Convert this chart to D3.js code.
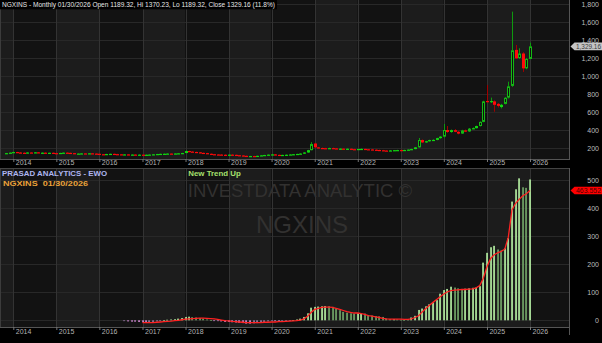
<!DOCTYPE html>
<html><head><meta charset="utf-8">
<script src="https://cdn.jsdelivr.net/npm/d3@7"></script>
<style>
body{margin:0;background:#000;}
svg{display:block;font-family:"Liberation Sans",Arial,sans-serif;}
</style>
</head><body>
<svg id="c" width="602" height="343"></svg>
<script>
// ---------- DATA ----------
const firstMonth = "2013-11-01";          // first monthly bar
const ewoFirstMonth = "2016-08-01";       // first EWO bar
const sigFirstMonth = "2017-01-01";       // first signal-line point
const years = [2014,2015,2016,2017,2018,2019,2020,2021,2022,2023,2024,2025,2026];
const priceTicks = [200,400,600,800,1000,1200,1400,1600,1800];
const ewoTicks = [0,100,200,300,400,500];

const opens = [140,143,
 148,155,150,147,146,150,148,152,147,148,145,147,
 143,141,145,148,146,143,136,138,140,139,141,138,
 136,131,130,133,135,132,130,128,129,126,127,125,
 126,124,125,127,130,133,135,136,138,137,139,141,
 144,166,160,156,152,146,143,136,131,128,127,125,
 123,126,124,120,117,113,107,111,110,113,118,122,
 126,129,124,118,123,125,128,131,134,138,150,176,
 250,207,200,198,195,199,196,190,193,189,192,187,
 185,189,190,186,184,181,178,175,172,170,173,176,
 177,175,178,182,188,207,289,262,275,288,290,310,
 326,400,378,398,380,360,395,384,415,420,444,490,
 722,712,718,690,655,690,760,890,1290,1200,1250,1085,
 1189.32];
const highs = [145,150,
 158,157,153,151,152,153,154,154,150,151,148,150,
 146,147,150,152,149,145,140,142,143,142,143,140,
 138,134,135,137,138,135,133,131,131,129,129,128,
 129,127,128,131,135,137,139,140,141,141,143,146,
 172,170,164,159,155,149,146,139,134,132,131,128,
 128,130,127,123,120,116,113,114,115,120,124,128,
 132,132,126,125,127,130,133,136,140,152,180,265,
 255,212,205,202,203,204,200,196,197,195,196,192,
 192,195,193,190,188,185,182,179,176,175,178,180,
 182,181,184,192,210,311,295,280,292,296,314,332,
 467,444,405,410,388,402,404,422,428,448,495,725,
 900,760,730,700,690,765,937,1715,1345,1308,1265,1200,
 1370.23];
const lows = [138,141,
 146,147,144,143,144,146,146,145,142,143,140,141,
 138,139,142,144,141,134,132,134,136,135,136,133,
 128,127,128,131,130,128,126,125,124,123,122,122,
 122,121,122,125,128,130,132,133,134,134,136,139,
 142,158,154,150,143,140,133,128,126,124,122,120,
 120,121,118,114,110,104,103,107,108,111,116,120,
 123,121,112,115,119,122,125,128,131,136,148,174,
 200,196,193,190,192,193,188,187,186,186,185,182,
 182,185,183,181,178,175,172,170,168,166,170,172,
 172,172,175,180,186,205,255,258,270,282,286,304,
 318,368,370,376,352,356,380,380,410,418,440,486,
 705,700,603,650,640,685,750,880,1190,1190,1045,1075,
 1189.32];
const closes = [143,148,
 155,150,147,146,150,148,152,147,148,145,147,143,
 141,145,148,146,143,136,138,140,139,141,138,136,
 131,130,133,135,132,130,128,129,126,127,125,126,
 124,125,127,130,133,135,136,138,137,139,141,144,
 166,160,156,152,146,143,136,131,128,127,125,123,
 126,124,120,117,113,107,111,110,113,118,122,126,
 129,124,118,123,125,128,131,134,138,150,176,244,
 207,200,198,195,199,196,190,193,189,192,187,185,
 189,190,186,184,181,178,175,172,170,173,176,177,
 175,178,182,188,207,289,262,275,288,290,310,326,
 400,378,398,380,360,395,384,415,420,444,490,718,
 714,722,680,668,680,758,885,1285,1196,1250,1085,1189,
 1329.16];

const ewo = [-3,-4,-5,-5,-6,
 -7,-8,-7,-6,-4,-2,0,2,3,4,6,8,
 12,13,11,10,8,6,3,1,-1,-3,-4,-6,
 -6,-7,-8,-9,-10,-12,-12,-11,-10,-8,-6,-4,
 -3,-3,-4,-3,-2,-1,1,3,6,12,25,45,
 48,49,50,51,50,48,42,36,30,27,25,24,
 25,26,24,19,17,15,14,12,6,4,4,3,
 2,1,3,10,16,37,42,50,57,64,72,95,
 108,112,120,117,114,112,113,114,116,117,122,206,
 241,261,266,253,249,257,293,424,468,507,475,473,
 503];
const signal = [-8,-8,-8,-8,-7,-6,-5,-4,-3,-1,0,2,
 4,5,6,7,8,8,7,6,5,3,1,-1,
 -2,-4,-5,-6,-7,-8,-8,-8,-8,-8,-7,-7,
 -6,-6,-5,-5,-4,-3,-2,-1,1,5,14,28,
 39,43,46,47,47,46,43,39,35,31,28,26,
 26,24,21,17,15,12,10,7,5,4,4,4,
 4,3,3,5,10,16,30,42,54,64,74,84,
 94,102,106,108,109,110,110,111,112,116,124,150,
 191,221,233,241,246,254,297,394,418,432,445,452,
 463.552];

const titleText = "NGXINS - Monthly 01/30/2026 Open 1189.32, Hi 1370.23, Lo 1189.32, Close 1329.16 (11.8%)";
const lastClose = 1329.16, lastSignal = 463.552;

// ---------- BUILD ----------
const months = (start, n) => { const s = new Date(start + "T00:00:00Z"); return d3.range(n).map(i => d3.utcMonth.offset(s, i)); };
const cDates = months(firstMonth, closes.length);
const candles = cDates.map((d,i) => ({date:d, o:opens[i], h:highs[i], l:lows[i], c:closes[i]}));
const eDates = months(ewoFirstMonth, ewo.length);
const ewoData = eDates.map((d,i) => ({date:d, v:ewo[i], prev: i? ewo[i-1] : ewo[i]-1}));
const sDates = months(sigFirstMonth, signal.length);
const sigData = sDates.map((d,i) => ({date:d, v:signal[i]}));

const PR = 569;
const TOP = {y0:0, y1:159}, BOT = {y0:168, y1:327};
const yr = y => new Date(Date.UTC(y,0,1));
const x = d3.scaleUtc().domain([yr(2014), yr(2026)]).range([13.3, 530]);
const yT = d3.scaleLinear().domain([0,1800]).range([166,4]);
const yB = d3.scaleLinear().domain([0,500]).range([320.3,180.3]);

const svg = d3.select("#c");
svg.append("rect").attr("width",602).attr("height",343).attr("fill","#000");
const defs = svg.append("defs");
[["clipT",TOP],["clipB",BOT]].forEach(([id,p]) => {
  defs.append("clipPath").attr("id",id).append("rect")
    .attr("x",0).attr("y",p.y0).attr("width",PR).attr("height",p.y1-p.y0);
});

function panelBg(p, clip, yScale, ticks) {
  const g = svg.append("g").attr("clip-path",`url(#${clip})`);
  const bandYears = [2013].concat(years);
  g.selectAll("rect.band").data(bandYears).join("rect")
    .attr("x", d => Math.max(0, x(yr(d))))
    .attr("width", d => Math.min(PR, x(yr(d+1))) - Math.max(0, x(yr(d))))
    .attr("y", p.y0).attr("height", p.y1-p.y0)
    .attr("fill", d => d % 2 ? "#1c1c1c" : "#121212");
  g.selectAll("line.h").data(ticks).join("line")
    .attr("x1",0).attr("x2",PR)
    .attr("y1", d => Math.round(yScale(d))+0.5).attr("y2", d => Math.round(yScale(d))+0.5)
    .attr("stroke","#282828").attr("stroke-width",1);
  g.selectAll("line.v").data(years).join("line")
    .attr("x1", d => Math.round(x(yr(d)))+0.5).attr("x2", d => Math.round(x(yr(d)))+0.5)
    .attr("y1",p.y0).attr("y2",p.y1)
    .attr("stroke","#333").attr("stroke-width",1);
  return g;
}
const gT = panelBg(TOP,"clipT",yT,priceTicks);
const gB = panelBg(BOT,"clipB",yB,ewoTicks);

// watermark
gB.append("text").attr("x",300).attr("y",196.7).attr("text-anchor","middle")
  .attr("font-size",18.5).attr("fill","#323130").text("INVESTDATA ANALYTIC ©");
gB.append("text").attr("x",302).attr("y",233).attr("text-anchor","middle")
  .attr("font-size",24).attr("fill","#323130").text("NGXINS");

// ---------- CANDLES ----------
const cg = gT.append("g");
cg.selectAll("line.wick").data(candles).join("line")
  .attr("x1", d => Math.round(x(d.date))+0.5).attr("x2", d => Math.round(x(d.date))+0.5)
  .attr("y1", d => yT(d.h)).attr("y2", d => yT(d.l))
  .attr("stroke", d => d.c >= d.o ? "#0e9a0e" : "#a00000").attr("stroke-width",1);
cg.selectAll("rect.body").data(candles).join("rect")
  .each(function(d){
    const up = d.c >= d.o;
    const y1 = yT(Math.max(d.o,d.c)), y2 = yT(Math.min(d.o,d.c));
    const h = Math.max(1.2, y2-y1);
    const xc = Math.round(x(d.date));
    const r = d3.select(this);
    if (up && h > 2.5) {
      r.attr("x", xc-0.5).attr("y", y1+0.5).attr("width", 2).attr("height", h-1)
       .attr("fill","#0f0f0f").attr("stroke","#14b814").attr("stroke-width",1);
    } else {
      r.attr("x", xc-1).attr("y", y1).attr("width", 3).attr("height", h)
       .attr("fill", up ? "#10d810" : "#ff0a0a");
    }
  });

// ---------- EWO ----------
gB.selectAll("rect.bar").data(ewoData).join("rect")
  .attr("x", d => Math.round(x(d.date))-0.8).attr("width",1.7)
  .attr("y", d => Math.min(yB(0), yB(d.v)))
  .attr("height", d => Math.max(0.8, Math.abs(yB(d.v)-yB(0))))
  .attr("fill", d => d.v >= 0 ? (d.v >= d.prev ? "#b2eca0" : "#70a466")
                              : (d.v <= d.prev ? "#d48ad6" : "#9a7aa8"));
gB.append("path").datum(sigData)
  .attr("d", d3.line().x(d => x(d.date)).y(d => yB(d.v)))
  .attr("fill","none").attr("stroke","#ff2222").attr("stroke-width",1.3);

// ---------- BORDERS ----------
svg.append("line").attr("x1",0.5).attr("x2",0.5).attr("y1",0).attr("y2",159).attr("stroke","#3c3c3c");
svg.append("line").attr("x1",0.5).attr("x2",0.5).attr("y1",168).attr("y2",327).attr("stroke","#3c3c3c");
svg.append("line").attr("x1",PR+0.5).attr("x2",PR+0.5).attr("y1",0).attr("y2",160).attr("stroke","#555");
svg.append("line").attr("x1",PR+0.5).attr("x2",PR+0.5).attr("y1",168).attr("y2",335).attr("stroke","#555");
svg.append("line").attr("x1",0).attr("x2",PR).attr("y1",168.5).attr("y2",168.5).attr("stroke","#444");

// ---------- X AXES ----------
function xAxis(y0, textY) {
  const g = svg.append("g").attr("transform",`translate(0,${y0})`)
    .call(d3.axisBottom(x).tickValues(years.map(yr)).tickFormat(d3.utcFormat("%Y")).tickSize(3).tickSizeOuter(0));
  g.select(".domain").attr("d",`M0,0.5H${PR}`).attr("stroke","#555");
  g.selectAll(".tick line").attr("stroke","#777");
  g.selectAll(".tick text").attr("text-anchor","start").attr("x",2).attr("y",textY).attr("dy",0)
    .attr("fill","#b4b4b4").attr("font-size",7);
}
xAxis(159, 6.3);
xAxis(327, 7.2);

// ---------- Y AXES ----------
function yAxis(scale, ticks, fmt) {
  const g = svg.append("g").attr("transform",`translate(${PR},0)`)
    .call(d3.axisRight(scale).tickValues(ticks).tickFormat(fmt).tickSize(0));
  g.select(".domain").remove();
  g.selectAll(".tick text").attr("text-anchor","end").attr("x",30)
    .attr("fill","#bdbdbd").attr("font-size",7);
}
yAxis(yT, priceTicks, d3.format(","));
yAxis(yB, ewoTicks, d3.format("d"));

// value tags
function tag(yv, fill, txtFill, txt) {
  const g = svg.append("g");
  g.append("path").attr("d",`M570.5,${yv}L574.5,${yv-3.8}H602V${yv+3.8}H574.5Z`).attr("fill",fill);
  g.append("text").attr("x",576).attr("y",yv+2.6).attr("font-size",7).attr("fill",txtFill)
    .attr("textLength",25).attr("lengthAdjust","spacingAndGlyphs").text(txt);
}
tag(yT(lastClose), "#c4c4c4", "#3a3a3a", d3.format(",.2f")(lastClose));
tag(yB(lastSignal), "#ff0000", "#4a0000", d3.format(".3f")(lastSignal));

// ---------- TEXTS ----------
svg.append("rect").attr("x",0).attr("y",0).attr("width",277).attr("height",9.3).attr("fill","#000");
svg.append("text").attr("x",2).attr("y",7.4).attr("font-size",7).attr("fill","#e6e6e6")
  .attr("textLength",273).attr("lengthAdjust","spacingAndGlyphs").text(titleText);
svg.append("text").attr("x",2).attr("y",175.8).attr("font-size",8).attr("font-weight","bold")
  .attr("fill","#aeb6f0").attr("textLength",105).attr("lengthAdjust","spacingAndGlyphs").text("PRASAD ANALYTICS - EWO");
svg.append("text").attr("x",3).attr("y",186).attr("font-size",8).attr("font-weight","bold")
  .attr("fill","#eaa23a").attr("textLength",85).attr("lengthAdjust","spacingAndGlyphs").attr("xml:space","preserve").text("NGXINS  01/30/2026");
svg.append("text").attr("x",188.3).attr("y",175.8).attr("font-size",8).attr("font-weight","bold")
  .attr("fill","#a6e06e").attr("textLength",52.5).attr("lengthAdjust","spacingAndGlyphs").text("New Trend Up");
</script>
</body></html>
